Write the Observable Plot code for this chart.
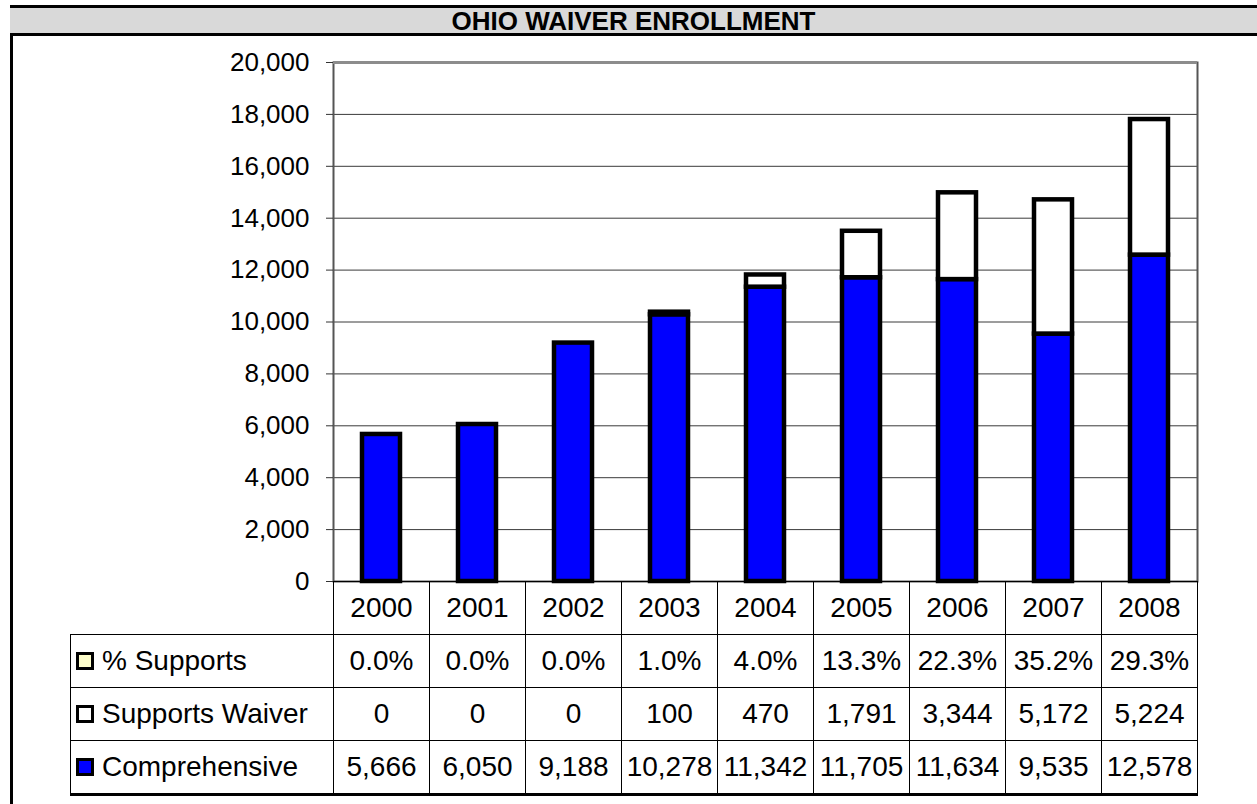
<!DOCTYPE html>
<html>
<head>
<meta charset="utf-8">
<script src="https://cdn.jsdelivr.net/npm/d3@7"></script>
<script src="https://cdn.jsdelivr.net/npm/@observablehq/plot@0.6"></script>
<style>
  html, body { margin: 0; padding: 0; background: #fff; width: 1257px; height: 804px; overflow: hidden;
    font-family: "Liberation Sans", Arial, Helvetica, sans-serif; color: #000; }
  #frameLeft { position: absolute; left: 10px; top: 6px; width: 3px; height: 798px; background: #000; }
  #title { position: absolute; left: 10px; top: 5px; width: 1247px; height: 25px; border-top: 3px solid #000;
    border-bottom: 3px solid #000; background: #d9d9d9; font-weight: bold; font-size: 26px; line-height: 26px;
    text-align: center; }
  #chart { position: absolute; left: 0; top: 36px; }
  #table { position: absolute; left: 70px; top: 581px; border-collapse: collapse; table-layout: fixed;
    font-size: 28px; }
  #table td { border: 1px solid #000; height: 52px; padding: 0; text-align: center; vertical-align: middle;
    white-space: nowrap; overflow: visible; }
  #table tr:last-child td { border-bottom: 3px solid #000; }
  #table td.blank { border-top: none; border-left: none; }
  #table td.lab { text-align: left; padding-left: 5px; }
  .sw { display: inline-block; width: 12px; height: 12px; border: 3px solid #000; vertical-align: middle;
    margin-right: 8px; position: relative; top: -2px; }
</style>
</head>
<body>
<div id="frameLeft"></div>
<div id="title">OHIO WAIVER ENROLLMENT</div>
<div id="chart"></div>
<table id="table"></table>
<script>
// ---- data ----
const years = ["2000", "2001", "2002", "2003", "2004", "2005", "2006", "2007", "2008"];
const comprehensive = [5666, 6050, 9188, 10278, 11342, 11705, 11634, 9535, 12578];
const supportsWaiver = [0, 0, 0, 100, 470, 1791, 3344, 5172, 5224];
const pctSupports = [0.0, 0.0, 0.0, 1.0, 4.0, 13.3, 22.3, 35.2, 29.3];
const yTicks = [0, 2000, 4000, 6000, 8000, 10000, 12000, 14000, 16000, 18000, 20000];
const seriesNames = ["Comprehensive", "Supports Waiver"];
const seriesColors = ["#0000ff", "#ffffff"];
const tableRows = ["% Supports", "Supports Waiver", "Comprehensive"];
const tableSwatches = ["#ffffcc", "#ffffff", "#0000ff"];

// ---- chart ----
const bars = years.flatMap((year, i) => [
  {year, series: "Comprehensive", value: comprehensive[i]},
  {year, series: "Supports Waiver", value: supportsWaiver[i]}
]);

const fmt = d3.format(",");
const chart = Plot.plot({
  width: 1257,
  height: 560,
  marginTop: 26,
  marginBottom: 15,
  marginLeft: 333,
  marginRight: 60,
  style: {fontFamily: '"Liberation Sans", Arial, sans-serif', fontSize: "26px", color: "#000", background: "transparent", overflow: "visible"},
  x: {domain: years, paddingInner: 0.604, paddingOuter: 0.302, axis: null},
  y: {domain: [0, 20000], label: null},
  color: {domain: seriesNames, range: seriesColors},
  marks: [
    Plot.gridY(yTicks, {stroke: "#3a3a3a", strokeOpacity: 1, strokeWidth: 1}),
    Plot.frame({stroke: "#555", strokeWidth: 2}),
    Plot.ruleY([20000], {stroke: "#8c8c8c", strokeWidth: 3}),
    Plot.axisY(yTicks, {tickSize: 7, tickPadding: 17, tickFormat: fmt, stroke: "#333", label: null, fontSize: 26}),
    Plot.barY(bars, {x: "year", y: "value", fill: "series", stroke: "#000", strokeWidth: 4.5})
  ]
});
document.getElementById("chart").appendChild(chart);

// ---- data table ----
const table = document.getElementById("table");
const colgroup = document.createElement("colgroup");
const c0 = document.createElement("col"); c0.style.width = "263px"; colgroup.appendChild(c0);
years.forEach(() => { const c = document.createElement("col"); c.style.width = "96px"; colgroup.appendChild(c); });
table.appendChild(colgroup);

const head = document.createElement("tr");
const blank = document.createElement("td"); blank.className = "blank"; head.appendChild(blank);
years.forEach(y => { const td = document.createElement("td"); td.textContent = y; head.appendChild(td); });
table.appendChild(head);

const rowValues = [
  pctSupports.map(v => d3.format(".1f")(v) + "%"),
  supportsWaiver.map(fmt),
  comprehensive.map(fmt)
];
tableRows.forEach((name, r) => {
  const tr = document.createElement("tr");
  const lab = document.createElement("td"); lab.className = "lab";
  const sw = document.createElement("span"); sw.className = "sw"; sw.style.background = tableSwatches[r];
  lab.appendChild(sw); lab.appendChild(document.createTextNode(name));
  tr.appendChild(lab);
  rowValues[r].forEach(v => { const td = document.createElement("td"); td.textContent = v; tr.appendChild(td); });
  table.appendChild(tr);
});
</script>
</body>
</html>
